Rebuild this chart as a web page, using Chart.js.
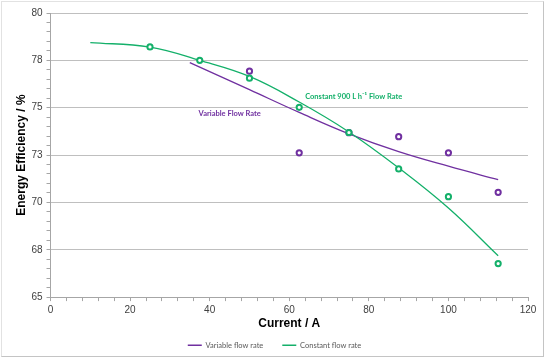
<!DOCTYPE html>
<html>
<head>
<meta charset="utf-8">
<script src="https://cdn.jsdelivr.net/npm/chart.js@4/dist/chart.umd.min.js"></script>
<style>
html,body{margin:0;padding:0;background:#fff;}
#wrap{position:relative;width:550px;height:362px;}
#frame{position:absolute;left:1px;top:1px;width:543px;height:356px;border-left:1px solid #e2e2e2;border-top:1px solid #e2e2e2;border-right:1px solid #c4c4c4;border-bottom:1px solid #c4c4c4;box-sizing:border-box;pointer-events:none;}
canvas{position:absolute;left:0;top:0;}
</style>
</head>
<body>
<div id="wrap">
<canvas id="c" width="550" height="362"></canvas>
<div id="frame"></div>
</div>
<script>
// Measured points
const variableCurrent = [50, 62.5, 75, 87.5, 100, 112.5];
const variableEff     = [76.93, 72.62, 73.68, 73.47, 72.62, 70.53];
const constantCurrent = [25, 37.5, 50, 62.5, 75, 87.5, 100, 112.5];
const constantEff     = [78.21, 77.5, 76.56, 75.02, 73.69, 71.77, 70.30, 66.77];
// Trend lines
const variableTrendX  = [35, 50, 62.5, 75, 87.5, 100, 112.5];
const variableTrendY  = [77.38, 75.95, 74.75, 73.62, 72.68, 71.91, 71.2];
const constantTrendX  = [10, 25, 37.5, 50, 62.5, 75, 87.5, 100, 112.5];
const constantTrendY  = [78.44, 78.2, 77.5, 76.65, 75.3, 73.72, 71.82, 69.7, 67.18];
// Axis settings
const xTicks = [0, 20, 40, 60, 80, 100, 120];
const yTicks = [65, 67.5, 70, 72.5, 75, 77.5, 80];
const seriesNames = ['Variable flow rate', 'Constant flow rate'];
const annotations = [
  {text: 'Constant 900 L h\u207B\u00B9 Flow Rate', x: 64, y: 75.6, color: '#14b06a'},
  {text: 'Variable Flow Rate', x: 37.2, y: 74.68, color: '#7030a0'}
];

const PURPLE = '#7030a0';
const GREEN = '#14b06a';
const pts = (xs, ys) => xs.map((x, i) => ({x: x, y: ys[i]}));
const isMajorY = v => yTicks.some(t => Math.abs(t - v) < 1e-6);

const annotPlugin = {
  id: 'annot',
  afterDatasetsDraw(chart) {
    const ctx = chart.ctx, xs = chart.scales.x, ys = chart.scales.y;
    ctx.save();
    ctx.font = 'bold 7.5px Lato, "Open Sans", sans-serif';
    ctx.textBaseline = 'middle';
    ctx.textAlign = 'left';
    annotations.forEach(a => {
      ctx.fillStyle = a.color;
      ctx.fillText(a.text, xs.getPixelForValue(a.x), ys.getPixelForValue(a.y));
    });
    ctx.restore();
  }
};

new Chart(document.getElementById('c'), {
  type: 'scatter',
  data: {
    datasets: [
      {label: seriesNames[0] + ' pts', data: pts(variableCurrent, variableEff), showLine: false,
       pointStyle: 'circle', pointRadius: 2.6, pointBorderWidth: 2, pointBorderColor: PURPLE, pointBackgroundColor: '#fff', order: 1},
      {label: seriesNames[1] + ' pts', data: pts(constantCurrent, constantEff), showLine: false,
       pointStyle: 'circle', pointRadius: 2.6, pointBorderWidth: 2, pointBorderColor: GREEN, pointBackgroundColor: '#fff', order: 0},
      {label: seriesNames[0], data: pts(variableTrendX, variableTrendY), showLine: true, pointRadius: 0,
       borderColor: PURPLE, backgroundColor: PURPLE, borderWidth: 1.3, tension: 0.4, order: 3},
      {label: seriesNames[1], data: pts(constantTrendX, constantTrendY), showLine: true, pointRadius: 0,
       borderColor: GREEN, backgroundColor: GREEN, borderWidth: 1.3, tension: 0.4, order: 2}
    ]
  },
  options: {
    responsive: false,
    animation: false,
    layout: {padding: {left: 21, right: 22, top: 13, bottom: 3}},
    plugins: {
      tooltip: {enabled: false},
      legend: {
        position: 'bottom',
        labels: {
          usePointStyle: true,
          pointStyle: 'line',
          pointStyleWidth: 14,
          color: '#595959',
          font: {size: 7.5, family: 'Lato, "Open Sans", sans-serif'},
          padding: 19,
          generateLabels(chart) {
            return chart.data.datasets
              .map((d, i) => ({
                text: d.label, fillStyle: d.borderColor, strokeStyle: d.borderColor, lineWidth: 1.5,
                pointStyle: 'line', datasetIndex: i, hidden: false, fontColor: '#595959'
              }))
              .filter(item => item.datasetIndex >= 2);
          }
        }
      }
    },
    scales: {
      x: {
        type: 'linear', min: 0, max: 120,
        ticks: {
          stepSize: 4, autoSkip: false, maxRotation: 0, color: '#404040', padding: 3,
          font: {size: 10, family: '"Liberation Sans", Arial, sans-serif'},
          callback: v => xTicks.includes(v) ? String(v) : ''
        },
        grid: {drawOnChartArea: false, tickLength: 4, color: '#a6a6a6'},
        border: {color: '#a6a6a6'},
        title: {display: true, text: 'Current / A', color: '#000',
          font: {size: 12, weight: 'bold', family: '"Liberation Sans", Arial, sans-serif'}, padding: {top: -3, bottom: -8}}
      },
      y: {
        type: 'linear', min: 65, max: 80,
        ticks: {
          stepSize: 0.5, autoSkip: false, color: '#404040', padding: 4,
          font: {size: 10, family: '"Liberation Sans", Arial, sans-serif'},
          callback: v => isMajorY(v) ? String(Math.round(v)) : ''
        },
        grid: {
          tickLength: 4,
          color: c => {
            const v = c.tick ? c.tick.value : null;
            if (v === null || v === 65) return 'rgba(0,0,0,0)';
            return isMajorY(v) ? '#bfbfbf' : 'rgba(0,0,0,0)';
          },
          tickColor: '#a6a6a6'
        },
        border: {color: '#a6a6a6'},
        title: {display: true, text: 'Energy Efficiency / %', color: '#000',
          font: {size: 12, weight: 'bold', family: '"Liberation Sans", Arial, sans-serif'}, padding: {top: -7, bottom: -1}}
      }
    }
  },
  plugins: [annotPlugin]
});
</script>
</body>
</html>
